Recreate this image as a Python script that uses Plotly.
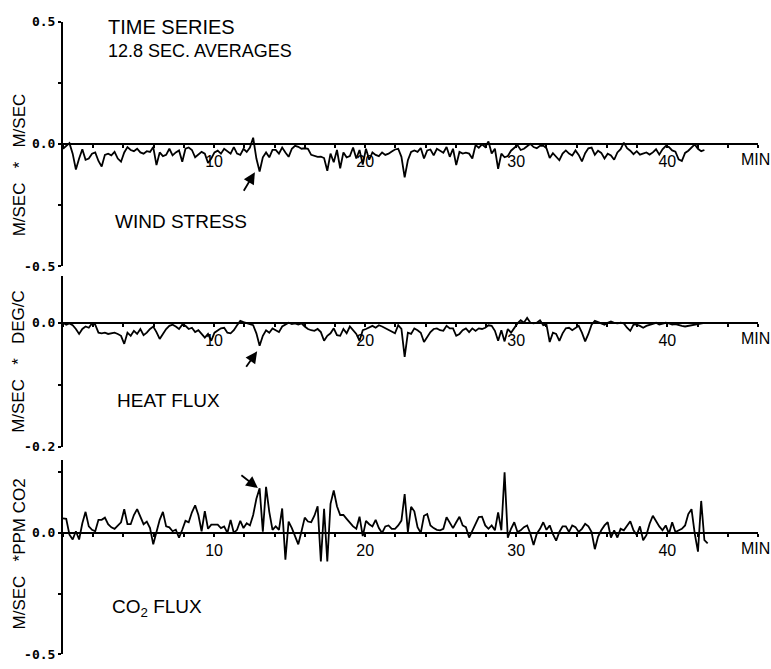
import plotly.graph_objects as go

# Sampling: one value per 12.8 s averaging block
SAMPLE_SEC = 12.8

# Series values in thousandths of the panel unit
wind_stress_milli = [
    -20, -10, 3, -40, -105, -60, -22, -65, -60, -40,
    -35, -70, -93, -45, -40, -47, -33, -60, -73, -35,
    -13, -25, -30, -20, -35, -40, -30, -33, -13, -87,
    -35, -50, -45, -20, -47, -35, -27, -73, -20, -15,
    -25, -55, -45, -33, -40, -78, -60, -35, -28, -40,
    -20, -30, -40, -13, -40, -45, -20, -33, -15, 25,
    -60, -113, -55, -35, -55, -25, -25, -40, -15, -35,
    -53, -20, -8, -12, -20, -18, -20, -45, -48, -53,
    -52, -58, -110, -40, -75, -25, -100, -35, -55, -50,
    -15, -60, -25, -85, -20, -65, -35, -45, -50, -35,
    -45, -40, -31, -23, -20, -53, -137, -67, -33, -27,
    -33, -17, -60, -27, -23, -47, -20, -27, -36, -13,
    -53, -20, -87, -33, -40, -36, -40, -60, -5, -16,
    -2, -13, 10, -39, -20, -102, -40, -55, -50, -28,
    -15, -5, -25, -20, -10, 0, -13, -18, -8, -7,
    -18, -58, -38, -52, -67, -40, -27, -40, -48, -27,
    -45, -72, -38, -18, -15, -45, -28, -37, -60, -40,
    -47, -65, -35, -22, 5, -18, -28, -42, -30, -44,
    -38, -35, -44, -35, -22, -44, -22, -9, -13, -27,
    -32, -63, -70, -37, -28, -15, -2, -20, -30, -25,
]

heat_flux_milli = [
    0, -3, -1, -4, -10, -18, -10, -6, -8, -1,
    -3, -16, -17, -16, -18, -17, -16, -18, -21, -34,
    -16, -21, -13, -18, -10, -20, -16, -10, -6, -15,
    -26, -18, -10, -5, -3, -6, -10, -3, -5, -10,
    -8, -15, -12, -18, -24, -18, -29, -16, -12, -9,
    -8, -16, -17, -12, -4, 3, 1, -1, -3, -4,
    -17, -37, -21, -12, -16, -9, -12, -15, -6, -3,
    0, -2, -1, -3, -1, -6, -10, -12, -13, -10,
    -15, -29, -21, -17, -9, -20, -21, -10, -17, -6,
    -13, -18, -29, -12, -10, -8, -5, -8, -4, -6,
    -9, -12, -14, -17, -4, -10, -55, -16, -18, -9,
    -12, -16, -31, -22, -15, -10, -9, -12, -13, -5,
    -9, -9, -21, -18, -12, -9, -15, -9, -13, -9,
    -10, -8, -4, -5, -13, -29, -12, -30, -10, -16,
    -8, -1, 4, 0, 8, 0, -1, 0, 4, -4,
    -3, -31, -16, -18, -29, -17, -9, -8, -12, -9,
    -5, -16, -30, -18, -3, 3, 1, -1, -3, 0,
    2, 0, -1, 0, -1, -8, -13, -3, -3, -5,
    -8, -5, -3, -1, 0, -3, -2, 0, -1, -3,
    -2, -4, -5, -6, -5, -3, -2, -1, -1, 0,
]

co2_flux_milli = [
    60, 58, -7, -27, 7, -27, 40, 87, 27, 13,
    7, 54, 54, 63, 36, 23, 17, 30, 44, 98,
    36, 36, 74, 98, 67, 36, 47, 20, -47, 7,
    54, 87, 27, 23, 7, 13, -20, 13, 50, 44,
    85, 114, 74, 7, 90, 17, 34, 34, 34, 20,
    27, 0, 54, 0, 13, 50, 20, 40, 31, 74,
    141, 184, 5, 190, 87, 13, 27, 13, 101, -110,
    47, 20, -13, -47, 7, 63, 47, 44, 71, 110,
    -118, 100, -118, 120, 175, 110, 74, 74, 58, 40,
    27, 17, 67, -13, 50, 36, 27, 54, 20, 0,
    27, 31, 17, 17, 31, 51, 160, 4, 108, 89,
    24, 0, 71, 78, 31, 20, 13, 11, 17, 65,
    40, 20, 44, 67, 31, 24, -19, 11, 38, 65,
    67, 31, 17, 31, 11, 85, 11, 250, -20, 17,
    44, 4, 11, 24, 31, -3, -50, -3, 17, 44,
    13, 31, -5, -32, 4, 27, 27, 4, 31, 24,
    4, 17, 38, 27, 4, -67, -16, 11, 31, 44,
    -19, 11, -19, 17, 11, 31, 48, 11, -9, 27,
    -30, -9, 38, 71, 48, 27, 11, 31, -3, 44,
    4, 11, 17, 31, 78, 98, -3, -77, 132, -30,
    -43,
]

# Panel metadata
panel_names = ["WIND STRESS", "HEAT FLUX", "CO<sub>2</sub> FLUX"]
SP = "\u00a0"
unit_labels = [
    f"M/SEC{SP*3}*{SP*3}M/SEC",
    f"M/SEC{SP*3}*{SP*3}DEG/C",
    f"M/SEC{SP*3}*PPM{SP}CO2",
]
y_ranges = [(-0.5, 0.5), (-0.2, 0.075), (-0.5, 0.3)]
y_tickvals = [[-0.5, -0.25, 0, 0.25, 0.5], [-0.2, -0.1, 0], [-0.5, -0.25, 0, 0.25]]
y_ticktext = [["-0.5", "", "0.0", "", "0.5"], ["-0.2", "", "0.0"], ["-0.5", "", "0.0", ""]]
x_range = (0, 46)
x_tickvals = list(range(0, 47, 2))
x_ticktext = [str(v) if v in (10, 20, 30, 40) else "" for v in x_tickvals]

# Arrow targets (minutes, value) marking the event near 13 min
arrow_targets = [(12.7, -0.116), (12.85, -0.046), (12.9, 0.185)]
arrow_offsets = [(-12, 20), (-12, 17), (-18, -14)]

W, H = 771, 669


def px(x):
    return x / W


def py(y):
    return 1 - y / H


# Pixel extents of each panel's vertical axis
panel_pix = [(15, 265), (275.4, 450), (463.6, 662)]
x_dom = [px(63), px(758)]

series = [
    [v / 1000 for v in wind_stress_milli],
    [v / 1000 for v in heat_flux_milli],
    [v / 1000 for v in co2_flux_milli],
]

fig = go.Figure()
layout = dict(
    width=W, height=H, autosize=False,
    margin=dict(l=0, r=0, t=0, b=0),
    paper_bgcolor="white", plot_bgcolor="white",
    showlegend=False,
    font=dict(family="Liberation Sans, Arial, sans-serif", color="black"),
)

annotations = []
black = "black"

for k in range(3):
    n = k + 1
    xa = "x" if n == 1 else f"x{n}"
    ya = "y" if n == 1 else f"y{n}"
    top, bottom = panel_pix[k]
    ydom = [py(bottom), py(top)]
    lo, hi = y_ranges[k]
    zero_pos = ydom[0] + (0 - lo) / (hi - lo) * (ydom[1] - ydom[0])

    vals = series[k]
    t = [i * SAMPLE_SEC / 60 for i in range(len(vals))]
    fig.add_trace(go.Scatter(
        x=t, y=vals, xaxis=xa, yaxis=ya, mode="lines",
        line=dict(color=black, width=1.8), hoverinfo="skip",
    ))

    layout["xaxis" if n == 1 else f"xaxis{n}"] = dict(
        domain=x_dom, range=list(x_range), anchor="free", position=zero_pos,
        showline=True, linecolor=black, linewidth=2,
        ticks="outside", ticklen=3, tickwidth=2, tickcolor=black,
        tickvals=x_tickvals, ticktext=x_ticktext,
        tickfont=dict(family="Liberation Sans, Arial, sans-serif", size=16, color=black),
        showgrid=False, zeroline=False, fixedrange=True,
    )
    layout["yaxis" if n == 1 else f"yaxis{n}"] = dict(
        domain=ydom, range=[lo, hi], anchor=xa,
        showline=True, linecolor=black, linewidth=2,
        ticks="outside", ticklen=3, tickwidth=2, tickcolor=black,
        tickvals=y_tickvals[k], ticktext=y_ticktext[k],
        tickfont=dict(family="DejaVu Sans Mono, monospace", size=13, color=black,
                      weight="bold"),
        showgrid=False, zeroline=False, fixedrange=True,
    )

    # "MIN" unit at the right end of each time axis
    zero_pix = H * (1 - zero_pos)
    annotations.append(dict(
        xref="paper", yref="paper", x=px(755), y=py(zero_pix + 16),
        text="MIN", showarrow=False, xanchor="center", yanchor="middle",
        font=dict(size=16),
    ))

    # arrow pointing at the event
    ax, ay = arrow_offsets[k]
    annotations.append(dict(
        xref=xa, yref=ya, x=arrow_targets[k][0], y=arrow_targets[k][1],
        text="", showarrow=True, ax=ax, ay=ay, axref="pixel", ayref="pixel",
        arrowhead=2, arrowsize=1.3, arrowwidth=1.8, arrowcolor=black, standoff=0,
    ))

# Panel names
name_pos = [(113, 219), (115, 403), (110, 615)]
for name, (x, y) in zip(panel_names, name_pos):
    annotations.append(dict(
        xref="paper", yref="paper", x=px(x), y=py(y), text=name,
        showarrow=False, xanchor="left", yanchor="middle", font=dict(size=19),
    ))

# Rotated unit labels
unit_centers = [162, 363, 560]
for lab, cy in zip(unit_labels, unit_centers):
    annotations.append(dict(
        xref="paper", yref="paper", x=px(19), y=py(cy), text=lab,
        textangle=-90, showarrow=False, xanchor="center", yanchor="middle",
        font=dict(size=17),
    ))

# Title block
annotations.append(dict(
    xref="paper", yref="paper", x=px(106), y=py(20), text="TIME SERIES",
    showarrow=False, xanchor="left", yanchor="middle", font=dict(size=20),
))
annotations.append(dict(
    xref="paper", yref="paper", x=px(106), y=py(45), text="12.8 SEC. AVERAGES",
    showarrow=False, xanchor="left", yanchor="middle", font=dict(size=18),
))

layout["annotations"] = annotations
fig.update_layout(**layout)
fig.write_html("out.html")
